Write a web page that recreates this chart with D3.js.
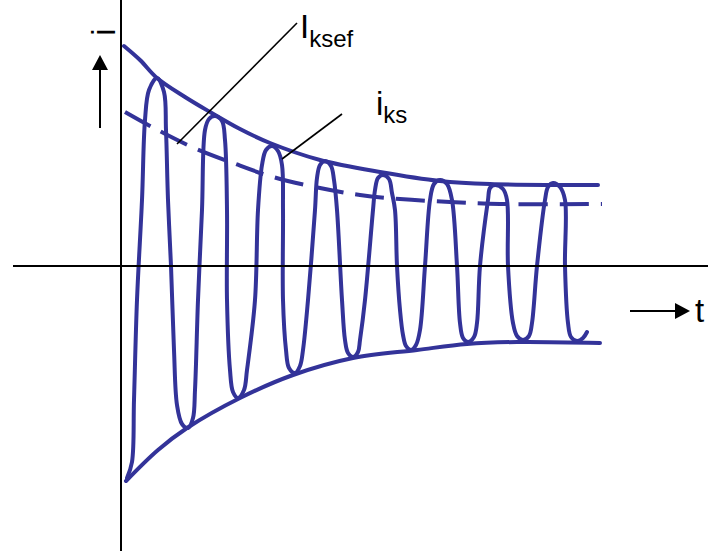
<!DOCTYPE html>
<html>
<head>
<meta charset="utf-8">
<script src="https://cdnjs.cloudflare.com/ajax/libs/d3/7.8.5/d3.min.js"></script>
<style>
  body { margin: 0; background: #fff; }
  svg { display: block; font-family: "Liberation Sans", Arial, sans-serif; }
</style>
</head>
<body>
<div id="chart"></div>
<script>
// values: [t, i] in arbitrary units
const upperEnv = [
  [0.6, 44], [3.8, 41.2], [7.2, 37.6], [12.8, 33.8], [17.8, 30.8], [23.8, 27.4],
  [29.8, 24.6], [39.8, 21.2], [51.8, 18.8], [63.8, 17], [73.8, 16.4], [95.4, 16.2]
];

const lowerEnv = [
  [1, -43], [7.4, -36.8], [13.2, -32.4], [23.8, -26.4], [34.4, -21.8],
  [46.4, -18.4], [59.2, -16.8], [69.2, -15.6], [79.2, -15.2], [95.8, -15.4]
];

// effective value I_ksef (dashed)
const effective = [
  [0.8, 30.8], [6.2, 27.8], [14.2, 23.8], [22.4, 20.6], [30.4, 17.8], [39.8, 15.6],
  [47.8, 14.2], [55.8, 13.4], [65.8, 12.8], [75.8, 12.4], [96.2, 12.4]
];

// short-circuit current i_ks
const wave = [
  [1.2, -42.4], [2.2, -39.2], [2.6, -26.8], [3.2, -6.8], [4.2, 13.2], [4.8, 29.2],
  [5.6, 35.2], [7.2, 37.6], [8.6, 34.8], [9.0, 27.2], [9.4, 13.2], [10.0, 0],
  [10.6, -16.8], [11.2, -27.8], [12.2, -31.6], [13.4, -32.4], [14.4, -30.4], [14.8, -24.8],
  [15.4, -6.8], [16.2, 11.2], [16.8, 27.2], [17.6, 29.4], [18.8, 30], [20.2, 29],
  [20.8, 25.2], [21.2, 11.2], [21.2, -6.8], [21.8, -20.8], [22.4, -25.2], [23.4, -26.4],
  [24.6, -24.8], [25.2, -20.8], [26.8, -6.8], [27.4, 11.2], [28.2, 20.2], [29.0, 23.2],
  [30.2, 24], [31.4, 23], [32.2, 20.2], [32.4, 11.2], [32.4, -6.8], [33.0, -16.8],
  [33.6, -20.4], [34.8, -21.4], [35.8, -20], [36.4, -16.8], [37.4, -6.8], [38.8, 11.2],
  [39.2, 17.6], [39.8, 20.2], [40.8, 21], [42.0, 20], [42.6, 17.2], [43.2, 11.2],
  [44.2, -6.8], [44.8, -14.8], [45.4, -17.4], [46.4, -18.2], [47.4, -17.2], [47.8, -14.8],
  [48.8, -6.8], [50.4, 11.2], [50.8, 15.2], [51.4, 17.6], [52.4, 18.2], [53.6, 17.4],
  [54.2, 14.6], [54.8, 11.2], [55.2, 0], [55.8, -8.8], [56.4, -13.8], [57.0, -16],
  [58.0, -16.8], [59.0, -15.8], [59.8, -12.8], [60.8, 0], [61.8, 13.2], [62.6, 16.4],
  [63.8, 17.2], [65.2, 16.4], [66.2, 13.2], [67.2, 0], [67.8, -11.4], [68.4, -14.4],
  [69.4, -15.2], [70.6, -14.2], [71.2, -11.4], [71.8, 0], [73.4, 13.2], [73.8, 15.6],
  [74.8, 16.2], [76.4, 15.4], [77.2, 13.2], [77.4, 0], [78.4, -11.4], [79.2, -14],
  [80.4, -14.8], [81.6, -14], [82.2, -11.4], [83.2, 0], [84.8, 13.2], [85.4, 15.8],
  [86.4, 16.6], [87.8, 15.8], [88.8, 13.2], [88.8, 0], [89.4, -11.4], [90.0, -14.2],
  [91.2, -15], [92.4, -14.4], [93.2, -13.2]
];

// callouts: label, subscript, point on the curve
const callouts = [
  { main: "I", sub: "ksef", t: 11.2, i: 24.4 },
  { main: "i", sub: "ks", t: 32.2, i: 21.4 }
];

const width = 708;
const height = 551;
const blue = "#333399";

const x = d3.scaleLinear().domain([0, 100]).range([121, 621]);
const y = d3.scaleLinear().domain([-50, 50]).range([516, 16]);

const svg = d3.select("#chart")
  .append("svg")
  .attr("width", width)
  .attr("height", height);

const line = d3.line()
  .x(d => x(d[0]))
  .y(d => y(d[1]))
  .curve(d3.curveCatmullRom.alpha(0.5));

// envelopes
[upperEnv, lowerEnv].forEach(env => {
  svg.append("path")
    .datum(env)
    .attr("d", line)
    .attr("fill", "none")
    .attr("stroke", blue)
    .attr("stroke-width", 4)
    .attr("stroke-linecap", "round");
});

// dashed effective value
svg.append("path")
  .datum(effective)
  .attr("d", line)
  .attr("fill", "none")
  .attr("stroke", blue)
  .attr("stroke-width", 4)
  .attr("stroke-dasharray", "29,12");

// oscillation
svg.append("path")
  .datum(wave)
  .attr("d", line)
  .attr("fill", "none")
  .attr("stroke", blue)
  .attr("stroke-width", 4)
  .attr("stroke-linecap", "round")
  .attr("stroke-linejoin", "round");

// axes (no ticks)
svg.append("line")
  .attr("x1", 13).attr("x2", width)
  .attr("y1", y(0)).attr("y2", y(0))
  .attr("stroke", "#000").attr("stroke-width", 2);

svg.append("line")
  .attr("x1", x(0)).attr("x2", x(0))
  .attr("y1", 0).attr("y2", height)
  .attr("stroke", "#000").attr("stroke-width", 2);

// callout leaders + labels
const leaderOffsets = [[120, -121], [60, -45]];
callouts.forEach((c, k) => {
  const px = x(c.t), py = y(c.i);
  const ex = px + leaderOffsets[k][0], ey = py + leaderOffsets[k][1];
  svg.append("line")
    .attr("x1", px).attr("y1", py)
    .attr("x2", ex).attr("y2", ey)
    .attr("stroke", "#000").attr("stroke-width", 1.6);

  const txt = svg.append("text")
    .attr("x", k === 0 ? ex + 3 : ex + 34)
    .attr("y", k === 0 ? ey + 15 : ey + 1)
    .style("font-size", "33px")
    .style("fill", "#000");
  txt.append("tspan").text(c.main);
  txt.append("tspan")
    .attr("dy", k === 0 ? 9 : 8)
    .style("font-size", "24px")
    .text(c.sub);
});

// y label (rotated i) with up arrow
svg.append("text")
  .attr("transform", "translate(115,32) rotate(-90)")
  .attr("text-anchor", "middle")
  .style("font-size", "33px")
  .text("i");

svg.append("line")
  .attr("x1", 100).attr("x2", 100)
  .attr("y1", 128).attr("y2", 68)
  .attr("stroke", "#000").attr("stroke-width", 2);
svg.append("path")
  .attr("d", "M100,55 L92,70 L108,70 Z")
  .attr("fill", "#000");

// t label with right arrow
svg.append("line")
  .attr("x1", 630).attr("x2", 677)
  .attr("y1", 311).attr("y2", 311)
  .attr("stroke", "#000").attr("stroke-width", 2);
svg.append("path")
  .attr("d", "M690,311 L675,303 L675,319 Z")
  .attr("fill", "#000");

svg.append("text")
  .attr("x", 695)
  .attr("y", 322)
  .style("font-size", "33px")
  .text("t");
</script>
</body>
</html>
